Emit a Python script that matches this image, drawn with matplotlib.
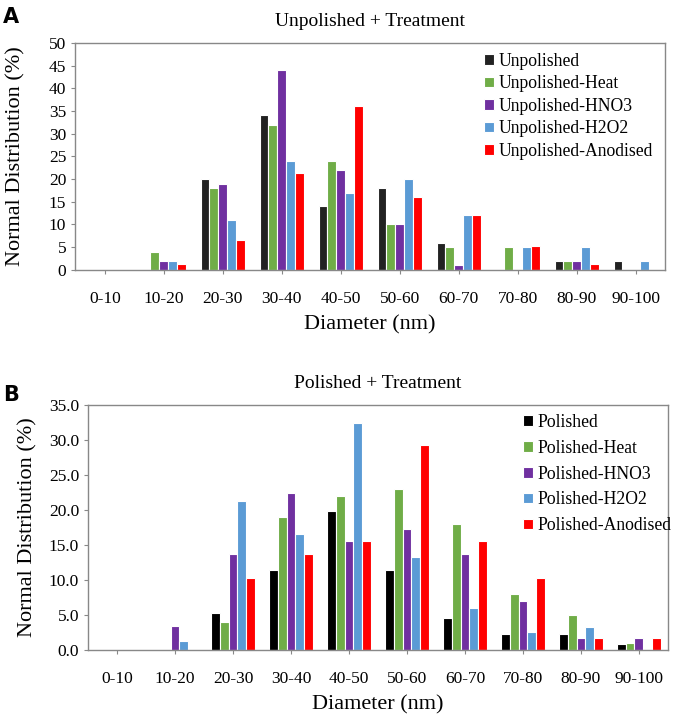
import matplotlib.pyplot as plt
import numpy as np

plt.rcParams['font.family'] = ['Liberation Serif', 'DejaVu Serif']

bins = ['0-10', '10-20', '20-30', '30-40', '40-50', '50-60', '60-70', '70-80', '80-90', '90-100']

# Unpolished + Treatment
unpolished = [0, 0, 20, 34, 14, 18, 6, 0, 2, 2]
unpolished_heat = [0, 4, 18, 32, 24, 10, 5, 5, 2, 0]
unpolished_hno3 = [0, 2, 19, 44, 22, 10, 1, 0, 2, 0]
unpolished_h2o2 = [0, 2, 11, 24, 17, 20, 12, 5, 5, 2]
unpolished_anod = [0, 1.3, 6.6, 21.3, 36, 16, 12, 5.3, 1.3, 0]

# Polished + Treatment
polished = [0, 0, 5.3, 11.4, 19.8, 11.4, 4.5, 2.3, 2.3, 0.8]
polished_heat = [0, 0, 3.9, 19.0, 22.0, 23.0, 18.0, 8.0, 5.0, 1.0]
polished_hno3 = [0, 3.4, 13.7, 22.4, 15.5, 17.2, 13.7, 6.9, 1.7, 1.7]
polished_h2o2 = [0, 1.3, 21.2, 16.5, 32.4, 13.2, 5.9, 2.6, 3.3, 0]
polished_anod = [0, 0, 10.3, 13.7, 15.5, 29.3, 15.5, 10.3, 1.7, 1.7]

colors_top = ['#222222', '#70AD47', '#7030A0', '#5B9BD5', '#FF0000']
colors_bot = ['#000000', '#70AD47', '#7030A0', '#5B9BD5', '#FF0000']

fig = plt.figure(figsize=(6.78, 7.14), dpi=100)
ax1 = fig.add_axes([0.111, 0.622, 0.870, 0.318])
ax2 = fig.add_axes([0.130, 0.090, 0.855, 0.343])

x = np.arange(len(bins))
w = 0.15


def draw(ax, series, labels, colors, title, ymax, step, fmt, lspace, ylpad, anchor):
    for i, (vals, lab, c) in enumerate(zip(series, labels, colors)):
        ax.bar(x + (i - 2) * w, vals, width=w, color=c, edgecolor='white',
               linewidth=0.8, label=lab)
    ax.set_xlim(-0.5, len(bins) - 0.5)
    ax.set_ylim(0, ymax)
    ticks = np.arange(0, ymax + 0.01, step)
    ax.set_yticks(ticks)
    ax.set_yticklabels([fmt.format(v) for v in ticks])
    ax.set_xticks(x)
    ax.set_xticklabels(bins)
    ax.tick_params(axis='both', labelsize=12.5, direction='out', length=3,
                   color='#888888', width=0.8)
    ax.tick_params(axis='x', pad=12)
    for s in ax.spines.values():
        s.set_color('#888888')
        s.set_linewidth(1)
    ax.set_title(title, fontsize=14, pad=12)
    ax.set_xlabel('Diameter (nm)', fontsize=16, labelpad=6)
    ax.set_ylabel('Normal Distribution (%)', fontsize=16, labelpad=ylpad)
    ax.legend(loc='upper left', bbox_to_anchor=anchor, frameon=False,
              fontsize=12.7, handlelength=0.55, handleheight=0.55,
              handletextpad=0.3, labelspacing=lspace, borderpad=0,
              borderaxespad=0)


draw(ax1, [unpolished, unpolished_heat, unpolished_hno3, unpolished_h2o2, unpolished_anod],
     ['Unpolished', 'Unpolished-Heat', 'Unpolished-HNO3', 'Unpolished-H2O2', 'Unpolished-Anodised'],
     colors_top, 'Unpolished + Treatment', 50, 5, '{:.0f}', 0.31, 17, (0.693, 0.956))
draw(ax2, [polished, polished_heat, polished_hno3, polished_h2o2, polished_anod],
     ['Polished', 'Polished-Heat', 'Polished-HNO3', 'Polished-H2O2', 'Polished-Anodised'],
     colors_bot, 'Polished + Treatment', 35, 5, '{:.1f}', 0.5, 8, (0.75, 0.963))

fig.text(0.005, 0.99, 'A', fontsize=15, fontweight='bold', family='DejaVu Sans', va='top')
fig.text(0.005, 0.461, 'B', fontsize=15, fontweight='bold', family='DejaVu Sans', va='top')

fig.savefig('out.png', dpi=100)
